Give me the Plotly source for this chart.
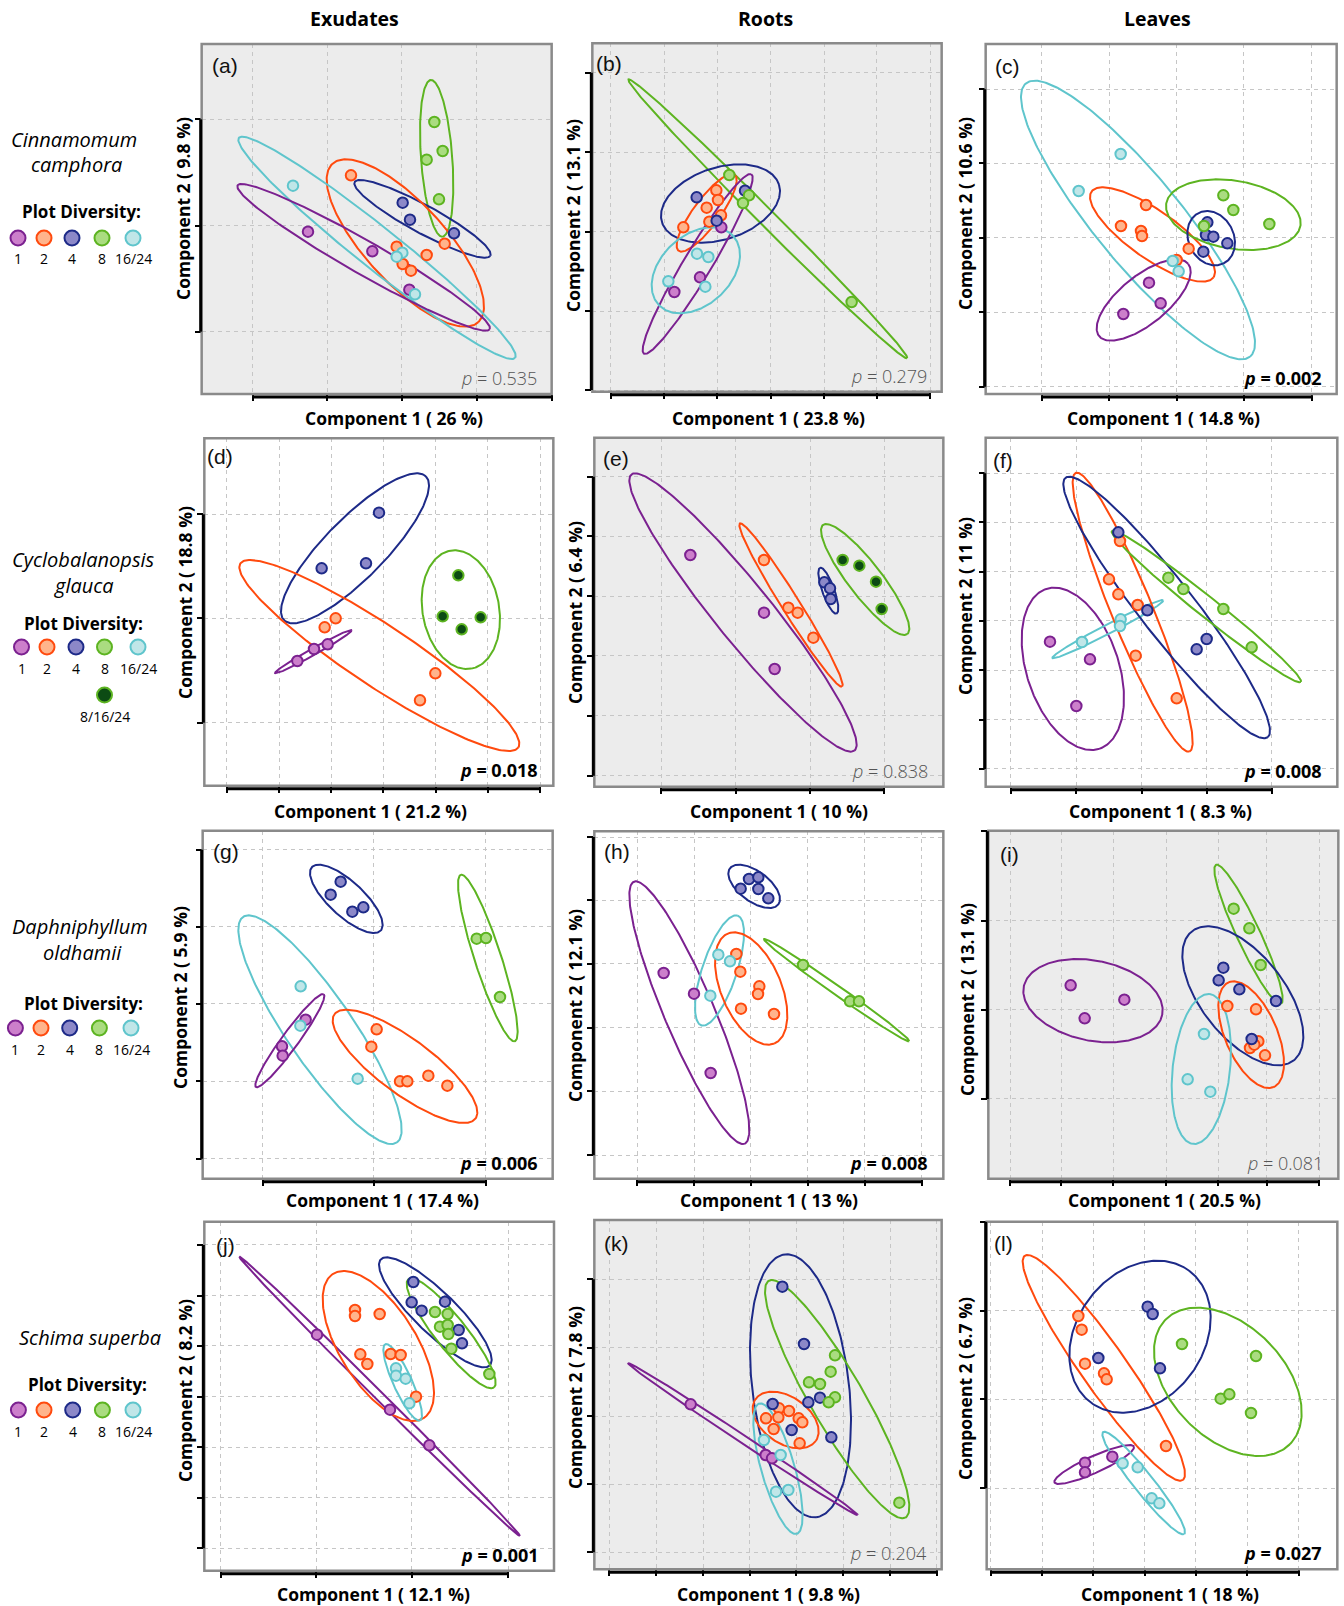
import numpy as np
import plotly.graph_objects as go

FIG_W, FIG_H = 1344, 1606

# ---------------- data (scores in arbitrary units) ----------------
# panel (a) Cinnamomum camphora – exudates
a_grp = ["1"]*3 + ["2"]*6 + ["4"]*3 + ["8"]*4 + ["16/24"]*4
a_x = [414, 607, 718, 543, 824, 680, 770, 698, 723, 698, 720, 852, 793, 818, 770, 807, 369, 697, 680, 735]
a_y = [605, 664, 779, 436, 641, 650, 675, 702, 722, 518, 569, 610, 276, 363, 389, 508, 467, 668, 680, 793]
a_e_grp = ["8", "4", "2", "16/24", "1"]
a_e_cx = [800, 757.5, 706, 621, 581]
a_e_cy = [385, 566.5, 639, 653.5, 682]
a_e_rx = [50, 204.5, 236, 416, 379]
a_e_ry = [235, 116.5, 251, 333.5, 220]
a_e_minor = [47, 42, 120, 62, 50]
a_e_tilt = [1, 1, 1, 1, 1]

# panel (b) roots
b_grp = ["1"]*3 + ["2"]*6 + ["4"]*3 + ["8"]*4 + ["16/24"]*4
b_x = [484, 420, 343, 469, 474, 440, 483, 448, 370, 410, 555, 470, 508, 567, 549, 875, 411, 445, 325, 436]
b_y = [592, 742, 786, 481, 510, 533, 556, 575, 592, 502, 482, 572, 435, 496, 519, 816, 671, 681, 754, 770]
b_e_grp = ["8", "4", "2", "1", "16/24"]
b_e_cx = [623.5, 481.5, 440, 413, 407.5]
b_e_cy = [566.5, 520.5, 548.5, 702, 721]
b_e_rx = [418.5, 178.5, 90, 165, 132.5]
b_e_ry = [418.5, 117.5, 116.5, 270, 129]
b_e_minor = [25, 108, 40, 42, 105]
b_e_tilt = [1, -1, -1, -1, -1]

# panel (c) leaves
c_grp = ["1"]*3 + ["2"]*6 + ["4"]*5 + ["8"]*4 + ["16/24"]*4
c_x = [597, 632, 520, 588, 513, 573, 576, 716, 680, 772, 768, 790, 832, 760, 820, 850, 958, 762, 512, 386, 668, 686]
c_y = [758, 820, 852, 525, 588, 603, 618, 656, 690, 577, 615, 620, 640, 665, 496, 540, 582, 588, 372, 483, 693, 724]
c_e_grp = ["16/24", "2", "8", "4", "1"]
c_e_cx = [564, 607.5, 850, 783.5, 581]
c_e_cy = [570, 613.5, 554, 624.5, 810]
c_e_rx = [351, 187.5, 202, 71.5, 141]
c_e_ry = [418, 141.5, 106, 81.5, 122]
c_e_minor = [130, 72, 102, 68, 72]
c_e_tilt = [1, 1, 1, 1, -1]

# panel (d) Cyclobalanopsis glauca – exudates
d_grp = ["1"]*3 + ["2"]*4 + ["4"]*3 + ["8/16/24"]*4
d_x = [382, 432, 473, 497, 464, 796, 750, 627, 455, 588, 865, 818, 932, 875]
d_y = [708, 672, 658, 580, 607, 745, 826, 263, 430, 415, 451, 574, 577, 613]
d_e_grp = ["4", "2", "1", "8"]
d_e_cx = [555, 628, 430, 872.5]
d_e_cy = [370, 691.5, 680, 554]
d_e_rx = [222, 420, 115, 117.5]
d_e_ry = [225, 286.5, 65, 178]
d_e_minor = [90, 92, 10, 115]
d_e_tilt = [-1, 1, -1, 1]

# panel (e) roots
e_grp = ["1"]*3 + ["2"]*4 + ["4"]*3 + ["8/16/24"]*4
e_x = [391, 612, 644, 612, 685, 713, 760, 793, 810, 812, 848, 898, 948, 965]
e_y = [390, 563, 732, 405, 548, 563, 638, 472, 490, 522, 405, 422, 470, 552]
e_e_grp = ["1", "2", "4", "8"]
e_e_cx = [549, 693, 805, 915.5]
e_e_cy = [562.5, 540, 497, 463.5]
e_e_rx = [341, 155, 30, 132.5]
e_e_ry = [417.5, 245, 69, 166.5]
e_e_minor = [85, 27, 18, 50]
e_e_tilt = [1, 1, 1, 1]

# panel (f) leaves
f_grp = ["1"]*3 + ["2"]*6 + ["4"]*4 + ["8"]*4 + ["16/24"]*3
f_x = [300, 420, 379, 510, 477, 505, 563, 557, 680, 505, 592, 770, 740, 655, 700, 820, 905, 396, 512, 510]
f_y = [650, 703, 843, 348, 463, 508, 540, 692, 820, 322, 556, 642, 673, 458, 492, 552, 667, 651, 583, 603]
f_e_grp = ["1", "16/24", "2", "4", "8"]
f_e_cx = [368.5, 473.5, 548, 650, 769]
f_e_cy = [731.5, 612.5, 561.5, 547.5, 544.5]
f_e_rx = [153.5, 166.5, 180, 310, 284]
f_e_ry = [243.5, 87.5, 418.5, 392.5, 227.5]
f_e_minor = [138, 14, 62, 82, 30]
f_e_tilt = [1, -1, 1, 1, 1]

# panel (g) Daphniphyllum oldhamii – exudates
g_grp = ["1"]*3 + ["2"]*6 + ["4"]*4 + ["8"]*3 + ["16/24"]*3
g_x = [407, 336, 338, 620, 604, 690, 712, 775, 832, 512, 482, 547, 580, 920, 948, 990, 392, 391, 563]
g_y = [605, 685, 713, 634, 686, 790, 790, 773, 803, 191, 230, 281, 268, 362, 360, 537, 505, 623, 782]
g_e_grp = ["4", "8", "16/24", "1", "2"]
g_e_cx = [529, 953.5, 450, 359.5, 705]
g_e_cy = [242.5, 420, 635, 668, 745]
g_e_rx = [109, 89.5, 245, 103.5, 217]
g_e_ry = [102.5, 250, 343, 140, 170]
g_e_minor = [52, 40, 100, 25, 82]
g_e_tilt = [1, 1, 1, -1, 1]

# panel (h) roots
h_grp = ["1"]*3 + ["2"]*6 + ["4"]*5 + ["8"]*3 + ["16/24"]*3
h_x = [311, 402, 452, 529, 541, 598, 594, 543, 642, 567, 595, 542, 595, 625, 729, 870, 897, 475, 510, 451]
h_y = [465, 527, 765, 408, 461, 505, 528, 572, 588, 183, 178, 212, 213, 241, 441, 550, 550, 410, 430, 533]
h_e_grp = ["4", "1", "16/24", "2", "8"]
h_e_cx = [582.5, 388, 478.5, 573.5, 830]
h_e_cy = [205, 584, 457.5, 511.5, 516.5]
h_e_rx = [77.5, 180, 73.5, 108.5, 218]
h_e_ry = [65, 394, 165.5, 168.5, 153.5]
h_e_minor = [45, 75, 52, 90, 14]
h_e_tilt = [1, 1, -1, 1, 1]

# panel (i) leaves
i_grp = ["1"]*3 + ["2"]*6 + ["4"]*5 + ["8"]*3 + ["16/24"]*3
i_x = [362, 523, 404, 832, 918, 925, 900, 913, 945, 820, 806, 868, 978, 905, 851, 898, 932, 762, 713, 781]
i_y = [502, 545, 601, 564, 574, 670, 690, 680, 712, 449, 487, 514, 549, 663, 272, 331, 441, 648, 784, 821]
i_e_grp = ["1", "8", "4", "2", "16/24"]
i_e_cx = [429, 895.5, 878.5, 903.5, 754]
i_e_cy = [548, 349, 533.5, 650, 753]
i_e_rx = [209, 102.5, 181.5, 98.5, 89]
i_e_ry = [125, 209, 208.5, 160, 225]
i_e_minor = [120, 35, 125, 78, 86]
i_e_tilt = [1, 1, 1, 1, -1]

# panel (j) Schima superba – exudates
j_grp = ["1"]*3 + ["2"]*8 + ["4"]*6 + ["8"]*7 + ["16/24"]*4
j_x = [441, 660, 778, 555, 555, 629, 571, 592, 662, 692, 738, 730, 725, 755, 825, 866, 876,
       795, 833, 810, 833, 835, 844, 958, 678, 678, 707, 718]
j_y = [374, 599, 706, 300, 318, 312, 433, 462, 432, 435, 560, 216, 277, 302, 275, 360, 400,
       306, 312, 350, 345, 372, 416, 492, 475, 497, 506, 580]
j_e_grp = ["1", "2", "16/24", "4", "8"]
j_e_cx = [629, 625, 698, 796, 843.5]
j_e_cy = [559, 408, 517, 307, 370]
j_e_rx = [421, 167, 58, 169, 133.5]
j_e_ry = [419, 225, 115, 165, 165]
j_e_minor = [13, 115, 28, 62, 47]
j_e_tilt = [1, 1, 1, 1, 1]

# panel (k) roots
k_grp = ["1"]*3 + ["2"]*8 + ["4"]*7 + ["8"]*7 + ["16/24"]*4
k_x = [392, 617, 636, 657, 687, 618, 655, 716, 727, 641, 719, 667, 732, 780, 745, 638, 695, 814,
       825, 812, 747, 780, 825, 806, 1018, 612, 662, 648, 685]
k_y = [583, 735, 745, 595, 603, 625, 622, 625, 637, 657, 700, 230, 402, 563, 577, 582, 660, 682,
       436, 485, 517, 522, 562, 577, 878, 690, 735, 845, 840]
k_e_grp = ["4", "8", "2", "16/24", "1"]
k_e_cx = [721.5, 831.5, 677, 654, 549]
k_e_cy = [527.5, 567.5, 630, 776, 687.5]
k_e_rx = [151.5, 216.5, 99, 74, 344]
k_e_ry = [394.5, 357.5, 85, 196, 227.5]
k_e_minor = [145, 80, 70, 50, 12]
k_e_tilt = [1, 1, 1, 1, 1]

# panel (l) leaves
l_grp = ["1"]*3 + ["2"]*6 + ["4"]*4 + ["8"]*5 + ["16/24"]*4
l_x = [405, 405, 487, 385, 395, 405, 462, 470, 648, 593, 608, 445, 630, 696, 918, 812, 838, 903, 518, 563, 605, 628]
l_y = [758, 787, 740, 318, 359, 461, 490, 508, 708, 290, 312, 444, 475, 402, 438, 566, 553, 609, 760, 772, 865, 880]
l_e_grp = ["2", "4", "8", "1", "16/24"]
l_e_cx = [461.5, 570, 833.5, 432.5, 581]
l_e_cy = [473.5, 380, 515.5, 763.5, 819]
l_e_rx = [243.5, 212, 221.5, 119.5, 124]
l_e_ry = [338.5, 228, 222.5, 58.5, 154]
l_e_minor = [68, 190, 170, 25, 30]
l_e_tilt = [1, -1, 1, -1, 1]

PANEL_TAGS = ["a", "b", "c", "d", "e", "f", "g", "h", "i", "j", "k", "l"]
PC1 = ["26", "23.8", "14.8", "21.2", "10", "8.3", "17.4", "13", "20.5", "12.1", "9.8", "18"]
PC2 = ["9.8", "13.1", "10.6", "18.8", "6.4", "11", "5.9", "12.1", "13.1", "8.2", "7.8", "6.7"]
P_VALUES = [0.535, 0.279, 0.002, 0.018, 0.838, 0.008, 0.006, 0.008, 0.081, 0.001, 0.204, 0.027]

X_TICKS = [
    [248, 472, 696, 920, 1145], [152, 313, 472, 632, 792, 950, 1110], [275, 478, 680, 882, 1085],
    [170, 327, 484, 640, 797, 953, 1110], [303, 527, 750, 972], [183, 379, 575, 770, 966],
    [278, 612, 947], [231, 402, 572, 743, 914, 1085], [180, 334, 490, 648, 805, 950, 1107],
    [152, 438, 725, 1015], [148, 289, 430, 569, 709, 849, 990, 1130], [122, 277, 430, 584, 738, 892, 1046],
]
Y_TICKS = [
    [268, 587, 905], [128, 367, 605, 843, 1080], [178, 400, 623, 846, 1070],
    [268, 580, 893], [155, 334, 514, 693, 873, 1052], [145, 292, 440, 588, 736, 884, 1032],
    [95, 326, 558, 790, 1022], [57, 247, 437, 629, 820, 1012], [40, 308, 575, 843],
    [105, 257, 408, 560, 712, 864, 1015], [208, 413, 618, 822, 1027], [35, 302, 568, 835],
]

GROUPS = ["1", "2", "4", "8", "16/24", "8/16/24"]
SPECIES = [["Cinnamomum", "camphora"], ["Cyclobalanopsis", "glauca"], ["Daphniphyllum", "oldhamii"], ["Schima superba"]]
COLUMNS = ["Exudates", "Roots", "Leaves"]

# ---------------- styling / layout ----------------
FILL = {"1": "#cc7fcb", "2": "#ffb48c", "4": "#8c88c8", "8": "#aadc80", "16/24": "#c0e6e8", "8/16/24": "#0c4b14"}
EDGE = {"1": "#7b2190", "2": "#ff4a0e", "4": "#1d2a88", "8": "#5db421", "16/24": "#5fc5cc", "8/16/24": "#5db421"}
PANEL_ORIGIN = [(170, 30), (560, 30), (950, 30), (170, 425), (560, 425), (950, 425),
                (170, 818), (560, 818), (950, 818), (170, 1210), (560, 1210), (950, 1210)]
PANEL_FRAME = [(95, 1145, 42, 1092), (97, 1145, 40, 1085), (107, 1160, 42, 1092),
               (103, 1150, 40, 1082), (103, 1150, 38, 1085), (107, 1162, 38, 1085),
               (98, 1148, 38, 1082), (103, 1150, 40, 1082), (115, 1165, 38, 1082),
               (103, 1152, 35, 1082), (103, 1145, 30, 1078), (110, 1162, 35, 1078)]
GRAY_BG = [True, True, False, False, True, False, False, False, True, False, True, False]
XT_POS = [(394, 418), (768, 418), (1163, 418), (370, 811), (779, 811), (1160, 811),
          (382, 1200), (769, 1200), (1164, 1200), (373, 1594), (768, 1594), (1170, 1594)]
YT_POS = [(183, 208), (573, 216), (965, 213), (185, 603), (575, 613), (965, 606),
          (180, 998), (575, 1006), (967, 1000), (185, 1391), (575, 1398), (965, 1388)]
LBL_POS = [(210.7, 65), (595, 63.3), (994, 66.7), (206, 456.7), (601.7, 458.3), (991.7, 460),
           (211.7, 851.3), (602.7, 851.3), (999.3, 854), (215, 1245), (603.3, 1243.3), (993.3, 1243.3)]

FONT = "Open Sans"


def ellipse_path(cx, cy, rx, ry, minor, tilt, n=240):
    b = min(minor, rx, ry)
    a2 = rx ** 2 + ry ** 2 - b ** 2
    d = a2 - b ** 2
    if d < 1e-9:
        c, s = 1.0, 0.0
    else:
        c = np.sqrt(max(rx ** 2 - b ** 2, 0) / d)
        s = np.sqrt(max(ry ** 2 - b ** 2, 0) / d)
    a = np.sqrt(a2)
    ux, uy = a * c, tilt * a * s
    vx, vy = -tilt * b * s, b * c
    t = np.linspace(0, 2 * np.pi, n)
    return cx + ux * np.cos(t) + vx * np.sin(t), cy + uy * np.cos(t) + vy * np.sin(t)


g = globals()
fig = go.Figure()
layout = dict(width=FIG_W, height=FIG_H, margin=dict(l=0, r=0, t=0, b=0),
              paper_bgcolor="white", plot_bgcolor="white", showlegend=False)
shapes, annotations = [], []


def px(xf):
    return xf / FIG_W


def py(yf):
    return 1 - yf / FIG_H


for idx, tag in enumerate(PANEL_TAGS):
    n = idx + 1
    xa = "x" if n == 1 else f"x{n}"
    ya = "y" if n == 1 else f"y{n}"
    ox, oy = PANEL_ORIGIN[idx]
    l, r, t, b = PANEL_FRAME[idx]
    fl, fr, ft, fb = ox + l / 3, ox + r / 3, oy + t / 3, oy + b / 3
    pw, ph = fr - fl, fb - ft

    axis_common = dict(showticklabels=False, ticks="outside", ticklen=6, tickwidth=2, tickcolor="black",
                       showgrid=True, gridcolor="#c6c6c6", gridwidth=1.3, griddash="4px,4px",
                       zeroline=False, showline=False, fixedrange=True)
    layout["xaxis" if n == 1 else f"xaxis{n}"] = dict(
        axis_common, domain=[px(fl), px(fr)], range=[l, r], tickvals=X_TICKS[idx], anchor=ya)
    layout["yaxis" if n == 1 else f"yaxis{n}"] = dict(
        axis_common, domain=[py(fb), py(ft)], range=[b, t], tickvals=Y_TICKS[idx], anchor=xa)

    if GRAY_BG[idx]:
        shapes.append(dict(type="rect", xref=f"{xa} domain", yref=f"{ya} domain", x0=0, x1=1, y0=0, y1=1,
                           fillcolor="#ececec", line=dict(width=0), layer="below"))
    shapes.append(dict(type="rect", xref=f"{xa} domain", yref=f"{ya} domain", x0=0, x1=1, y0=0, y1=1,
                       line=dict(color="#8a8a8a", width=2.5), layer="above"))
    xt, yt = X_TICKS[idx], Y_TICKS[idx]
    shapes.append(dict(type="line", xref=xa, yref=f"{ya} domain", x0=xt[0], x1=xt[-1],
                       y0=-3 / ph, y1=-3 / ph, line=dict(color="black", width=3), layer="above"))
    shapes.append(dict(type="line", xref=f"{xa} domain", yref=ya, x0=-1 / pw, x1=-1 / pw,
                       y0=yt[0], y1=yt[-1], line=dict(color="black", width=3), layer="above"))

    # ellipses
    for eg, cx, cy, rx, ry, mn, tl in zip(g[f"{tag}_e_grp"], g[f"{tag}_e_cx"], g[f"{tag}_e_cy"],
                                         g[f"{tag}_e_rx"], g[f"{tag}_e_ry"], g[f"{tag}_e_minor"],
                                         g[f"{tag}_e_tilt"]):
        ex, ey = ellipse_path(cx, cy, rx, ry, mn, tl)
        fig.add_trace(go.Scatter(x=ex, y=ey, mode="lines", xaxis=xa, yaxis=ya, hoverinfo="skip",
                                 line=dict(color=EDGE[eg], width=2)))
    # points
    grp = g[f"{tag}_grp"]
    xs, ys = g[f"{tag}_x"], g[f"{tag}_y"]
    for G in GROUPS:
        sel = [k for k, gg in enumerate(grp) if gg == G]
        if not sel:
            continue
        fig.add_trace(go.Scatter(x=[xs[k] for k in sel], y=[ys[k] for k in sel], mode="markers",
                                 xaxis=xa, yaxis=ya, name=G,
                                 marker=dict(size=10.5, color=FILL[G], line=dict(color=EDGE[G], width=2))))

    # texts
    lx, ly = LBL_POS[idx]
    annotations.append(dict(xref="paper", yref="paper", x=px(lx - 1), y=py(ly), xanchor="left", yanchor="middle",
                            text=f"({tag})", showarrow=False,
                            font=dict(family="Liberation Sans", size=21, color="#111")))
    pv = P_VALUES[idx]
    if pv < 0.05:
        ptxt = f"<b><i>p</i> = {pv:.3f}</b>"
        pfont = dict(family=FONT, size=18, color="black")
    else:
        ptxt = f"<i>p</i> = {pv:.3f}"
        pfont = dict(family=FONT, size=18, color="#555555", weight=300)
    annotations.append(dict(xref="paper", yref="paper", x=px(fr - 13), y=py(fb - 16), xanchor="right",
                            yanchor="middle", text=ptxt, showarrow=False, font=pfont))
    tx, ty = XT_POS[idx]
    annotations.append(dict(xref="paper", yref="paper", x=px(tx), y=py(ty), xanchor="center", yanchor="middle",
                            text=f"Component 1 ( {PC1[idx]} %)", showarrow=False,
                            font=dict(family=FONT, size=17.5, color="black", weight=700)))
    tx, ty = YT_POS[idx]
    annotations.append(dict(xref="paper", yref="paper", x=px(tx), y=py(ty), xanchor="center", yanchor="middle",
                            text=f"Component 2 ( {PC2[idx]} %)", showarrow=False, textangle=-90,
                            font=dict(family=FONT, size=17.5, color="black", weight=700)))

# column titles
for name, (cx, cy) in zip(COLUMNS, [(354, 18), (765, 18), (1157, 18)]):
    annotations.append(dict(xref="paper", yref="paper", x=px(cx), y=py(cy), xanchor="center", yanchor="middle",
                            text=name, showarrow=False, font=dict(family=FONT, size=19.5, color="black", weight=700)))

# row labels and keys
SPECIES_POS = [[(74, 139), (76, 165)], [(83, 559), (84, 585)], [(80, 926), (82, 952)], [(90, 1337)]]
PD_POS = [(81, 212), (83, 623), (83, 1004), (87, 1384)]
KEY_X = [[18, 44, 72, 102, 133], [21.5, 47, 76, 104.5, 138], [15.4, 41, 69.7, 99.4, 131], [18.4, 44, 72.7, 102.4, 133]]
KEY_Y = [238, 647, 1028, 1410]
KEY_LBL_DY = 21
for row in range(4):
    for txt, (sx, sy) in zip(SPECIES[row], SPECIES_POS[row]):
        annotations.append(dict(xref="paper", yref="paper", x=px(sx), y=py(sy), xanchor="center",
                                yanchor="middle", text=f"<i>{txt}</i>", showarrow=False,
                                font=dict(family=FONT, size=20, color="black")))
    annotations.append(dict(xref="paper", yref="paper", x=px(PD_POS[row][0]), y=py(PD_POS[row][1]),
                            xanchor="center", yanchor="middle", text="Plot Diversity:", showarrow=False,
                            font=dict(family=FONT, size=17, color="black", weight=700)))
    keys = [(G, kx, KEY_Y[row]) for G, kx in zip(GROUPS[:5], KEY_X[row])]
    if row == 1:
        keys.append(("8/16/24", 104.5, 695))
    for G, kx, ky in keys:
        rr = 7.5
        shapes.append(dict(type="circle", xref="paper", yref="paper", x0=px(kx - rr), x1=px(kx + rr),
                           y0=py(ky + rr), y1=py(ky - rr), fillcolor=FILL[G],
                           line=dict(color=EDGE[G], width=2)))
        annotations.append(dict(xref="paper", yref="paper", x=px(kx), y=py(ky + KEY_LBL_DY), xanchor="center",
                                yanchor="middle", text=G, showarrow=False,
                                font=dict(family=FONT, size=14, color="black")))

layout["shapes"] = shapes
layout["annotations"] = annotations
fig.update_layout(**layout)
fig.write_html("out.html")
